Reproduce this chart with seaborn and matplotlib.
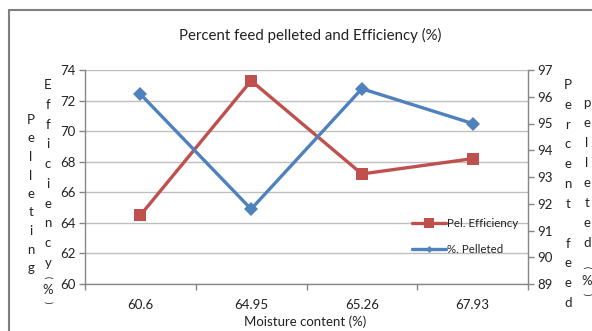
import matplotlib
matplotlib.use("Agg")
import matplotlib.pyplot as plt
import seaborn as sns
import pandas as pd
from matplotlib.lines import Line2D
from matplotlib.patches import Rectangle

# Data
moisture = ["60.6", "64.95", "65.26", "67.93"]
pel_efficiency = [64.5, 73.3, 67.2, 68.2]
pct_pelleted = [96.1, 91.8, 96.3, 95.0]

left_ticks = [60, 62, 64, 66, 68, 70, 72, 74]
right_ticks = [89, 90, 91, 92, 93, 94, 95, 96, 97]

RED = "#C0504D"
BLUE = "#4F81BD"
AXIS = "#868686"
GRID = "#BFBFBF"
FONT = "Lato"

sns.set_theme(style="white")
plt.rcParams["font.family"] = [FONT, "DejaVu Sans"]

df = pd.DataFrame({"moisture": moisture,
                   "eff": pel_efficiency,
                   "pel": pct_pelleted})

W, H = 592, 331
fig = plt.figure(figsize=(W / 100, H / 100), dpi=100)
ax = fig.add_axes([85 / W, (H - 284) / H, (528 - 85) / W, (284 - 70) / H])

sns.lineplot(data=df, x="moisture", y="eff", ax=ax, color=RED, lw=2.4,
             marker="s", markersize=9, markeredgewidth=0, sort=False)
ax2 = ax.twinx()
sns.lineplot(data=df, x="moisture", y="pel", ax=ax2, color=BLUE, lw=2.4,
             marker="D", markersize=7.5, markeredgewidth=0, sort=False)

ax.set_xlim(-0.5, 3.5)
ax.set_ylim(60, 74)
ax2.set_ylim(89, 97)
ax.set_yticks(left_ticks)
ax2.set_yticks(right_ticks)
ax.set_xticks(range(len(moisture)))
ax.set_xticklabels(moisture)
ax.set_xticks([-0.5, 0.5, 1.5, 2.5, 3.5], minor=True)

ax.grid(axis="y", color=GRID, lw=1)
ax.set_axisbelow(True)
ax.set_xlabel("")
ax.set_ylabel("")
ax2.set_xlabel("")
ax2.set_ylabel("")

for a in (ax, ax2):
    for s in a.spines.values():
        s.set_visible(False)
ax.spines["left"].set_visible(True)
ax.spines["bottom"].set_visible(True)
ax2.spines["right"].set_visible(True)
for s in (ax.spines["left"], ax.spines["bottom"], ax2.spines["right"]):
    s.set_color(AXIS)
    s.set_linewidth(1)

ax.tick_params(axis="y", which="major", left=True, length=4, width=1,
               color=AXIS, labelsize=9.5, labelcolor="#222222", pad=3)
ax2.tick_params(axis="y", which="major", right=True, length=4, width=1,
                color=AXIS, labelsize=9.5, labelcolor="#222222", pad=3)
ax.tick_params(axis="x", which="major", bottom=False, labelsize=9.5,
               labelcolor="#222222", pad=5)
ax.tick_params(axis="x", which="minor", bottom=True, length=4, width=1,
               color=AXIS)

# Title and x-axis label
fig.text(310 / W, 1 - 35 / H, "Percent feed pelleted and Efficiency (%)",
         ha="center", va="center", fontsize=10.8, color="#222222")
fig.text(305 / W, 1 - 322 / H, "Moisture content (%)",
         ha="center", va="center", fontsize=9.5, color="#222222")


def stacked(x, ys, chars, size=9.5):
    for y, c in zip(ys, chars):
        rot, fs = 0, size
        if c in "()":
            rot, fs = -90, 6.5
        fig.text(x / W, 1 - y / H, c, ha="center", va="center",
                 fontsize=fs, rotation=rot, color="#222222")


def spaced(y0, y1, n):
    step = (y1 - y0) / (n - 1)
    return [y0 + i * step for i in range(n)]


# Left axis titles, written top to bottom
stacked(31, spaced(120, 268, 9), "Pelleting")
stacked(48, spaced(85, 263, 10) + [277, 290, 302], "Efficiency(%)")

# Right axis titles
stacked(568, spaced(85, 303, 12), "Percent feed")
stacked(587, spaced(103, 243, 8) + [267, 281, 294], "pelleted(%)")

# Legend
handles = [Line2D([], [], color=RED, lw=2.4, marker="s", markersize=7,
                  markeredgewidth=0),
           Line2D([], [], color=BLUE, lw=2.4, marker="D", markersize=3.5,
                  markeredgewidth=0)]
leg = fig.legend(handles, ["Pel. Efficiency", "%. Pelleted"],
                 loc="upper left", bbox_to_anchor=(407 / W, 1 - 213 / H),
                 frameon=False, fontsize=8.3, handlelength=3.0,
                 handletextpad=0.05, labelspacing=1.3, borderaxespad=0)
for t in leg.get_texts():
    t.set_color("#222222")

# Outer chart frame
fig.add_artist(Rectangle((8.5 / W, -0.1), 1.2, 1 - 9.5 / H + 0.1,
                         transform=fig.transFigure, fill=False,
                         edgecolor="#7F7F7F", lw=1.5))

fig.savefig("out.png", dpi=100)
